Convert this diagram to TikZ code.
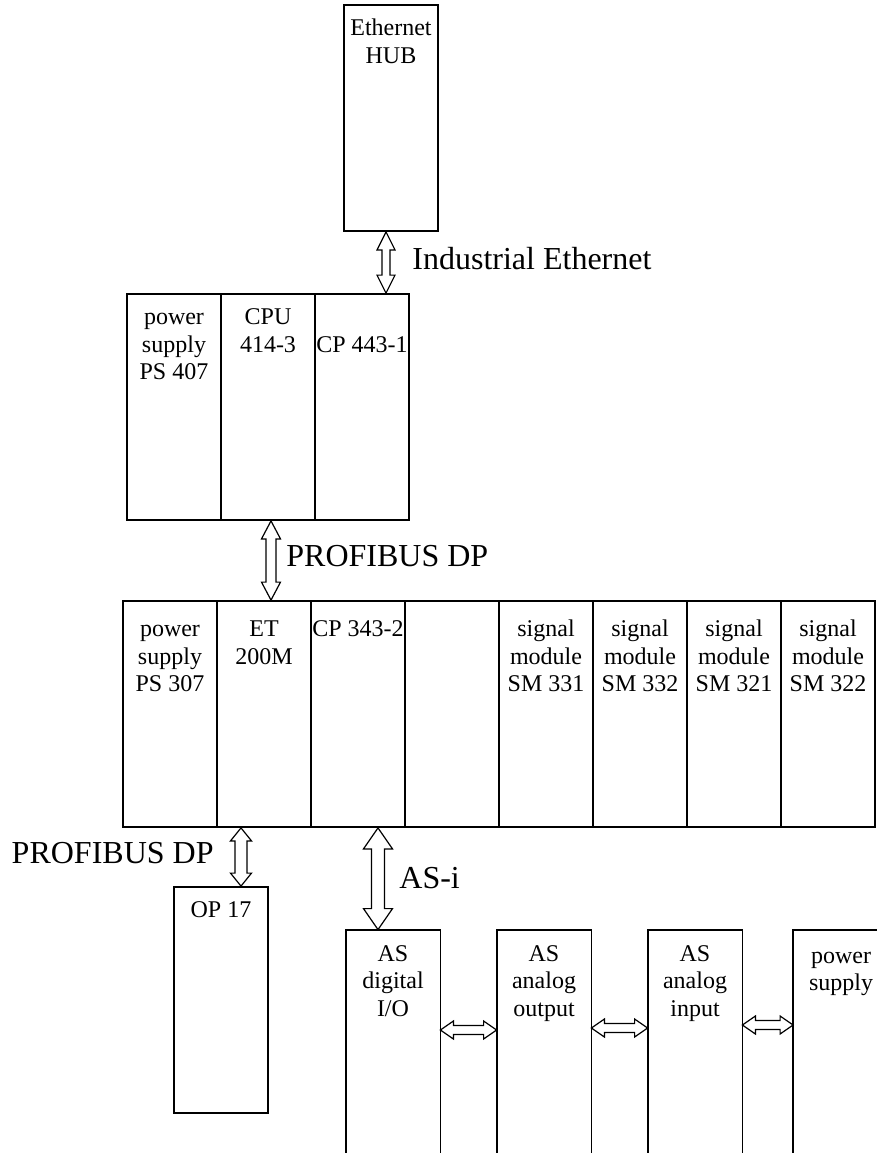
\documentclass[tikz,border=0pt]{standalone}
\usepackage{fontspec}
\setmainfont{Liberation Serif}
\usetikzlibrary{calc}

\begin{document}
\begin{tikzpicture}[x=0.5pt, y=-0.5pt, node distance=47pt,
    module/.style={rectangle, draw, line width=0.9pt, minimum width=47pt, minimum height=113pt, inner sep=0pt},
    slave/.style={rectangle, minimum width=47pt, minimum height=111.5pt, inner sep=0pt},
    frame/.style={line width=0.9pt},
    modtext/.style={anchor=north, yshift=-5.85pt, align=center, inner sep=0pt, font=\fontsize{12}{13.8}\selectfont},
    % block arrows: #1 half head width, #2 half shaft width, #3 head length
    vbus/.style n args={3}{draw, fill=white, line width=0.6pt, to path={(\tikztostart) -- ++(-#1,-#3) -- ++(#1-#2,0pt)
        -- ($(\tikztotarget)+(-#2,#3)$) -- ++(#2-#1,0pt) -- (\tikztotarget) -- ++(#1,#3) -- ++(#2-#1,0pt)
        -- ($(\tikztostart)+(#2,-#3)$) -- ++(#1-#2,0pt) -- cycle}},
    hbus/.style n args={3}{draw, fill=white, line width=0.6pt, to path={(\tikztostart) -- ++(#3,#1) -- ++(0pt,#2-#1)
        -- ($(\tikztotarget)+(-#3,#2)$) -- ++(0pt,#1-#2) -- (\tikztotarget) -- ++(-#3,-#1) -- ++(0pt,#1-#2)
        -- ($(\tikztostart)+(#3,-#2)$) -- ++(0pt,#2-#1) -- cycle}},
    buslabel/.style={inner sep=0pt, font=\fontsize{16}{19}\selectfont}]
    \useasboundingbox (0,0) rectangle (878,1153);

    % Ethernet hub
    \node[module] (hub) at (391,118) {};
    \node[modtext] (hubt) at (hub.north) {\strut Ethernet\\HUB};

    % S7-400 rack
    \node[module] (ps407) at (174,407) {};
    \node[module, right of=ps407] (cpu) {};
    \node[module, right of=cpu] (cp443) {};
    \node[modtext] (ps407t) at (ps407.north) {\strut power\\supply\\PS 407};
    \node[modtext] (cput) at (cpu.north) {\strut CPU\\414-3};
    \node[modtext] (cp443t) at (cp443.north) {\strut\\CP 443-1};

    % ET 200M rack
    \node[module] (ps307) at (170,714) {};
    \node[module, right of=ps307] (et200) {};
    \node[module, right of=et200] (cp343) {};
    \node[module, right of=cp343] (slot) {};
    \node[module, right of=slot] (sm331) {};
    \node[module, right of=sm331] (sm332) {};
    \node[module, right of=sm332] (sm321) {};
    \node[module, right of=sm321] (sm322) {};
    \node[modtext, yshift=-2.5pt] (ps307t) at (ps307.north) {\strut power\\supply\\PS 307};
    \node[modtext, yshift=-2.5pt] (et200t) at (et200.north) {\strut ET\\200M};
    \node[modtext, yshift=-2.5pt] (cp343t) at (cp343.north) {\strut CP 343-2};
    \node[modtext, yshift=-2.5pt] (sm331t) at (sm331.north) {\strut signal\\module\\SM 331};
    \node[modtext, yshift=-2.5pt] (sm332t) at (sm332.north) {\strut signal\\module\\SM 332};
    \node[modtext, yshift=-2.5pt] (sm321t) at (sm321.north) {\strut signal\\module\\SM 321};
    \node[modtext, yshift=-2.5pt] (sm322t) at (sm322.north) {\strut signal\\module\\SM 322};

    % operator panel
    \node[module] (op17) at (221,1000) {};
    \node[modtext] (op17t) at (op17.north) {\strut OP 17};

    % AS-i slaves, open at the bottom
    \node[slave] (asdio) at (393,1041.5) {};
    \node[slave, right of=asdio, node distance=75.5pt] (asao) {};
    \node[slave, right of=asao, node distance=75.5pt] (asai) {};
    \node[slave, right of=asai, node distance=70pt, minimum width=41.5pt] (aps) {};
    \draw[frame] (asdio.south west) |- (asdio.north east) -- (asdio.south east);
    \draw[frame] (asao.south west) |- (asao.north east) -- (asao.south east);
    \draw[frame] (asai.south west) |- (asai.north east) -- (asai.south east);
    \draw[frame] (aps.south west) |- (aps.north east);
    \node[modtext] (asdiot) at (asdio.north) {\strut AS\\digital\\I/O};
    \node[modtext] (asaot) at (asao.north) {\strut AS\\analog\\output};
    \node[modtext] (asait) at (asai.north) {\strut AS\\analog\\input};
    \node[modtext, xshift=3pt, yshift=-1pt] (apst) at (aps.north) {\strut power\\supply};

    % buses
    \draw[vbus={4.5pt}{2pt}{9pt}] ([xshift=-2.5pt]hub.south) to ([xshift=-2.5pt]hub.south |- cp443.north);
    \draw[vbus={4.75pt}{2.5pt}{9pt}] ([xshift=1.5pt]cpu.south) to ([xshift=1.5pt]cpu.south |- et200.north);
    \draw[vbus={5.25pt}{3pt}{6.5pt}] ([xshift=-11.5pt]et200.south) to ([xshift=-11.5pt]et200.south |- op17.north);
    \draw[vbus={7.25pt}{3.25pt}{10.5pt}] ([xshift=10pt]cp343.south) to ([xshift=10pt]cp343.south |- asdio.north);
    \draw[hbus={4.5pt}{2.25pt}{6.5pt}] ([yshift=5.75pt]asdio.east) to ([yshift=5.75pt]asao.west);
    \draw[hbus={4.5pt}{2.25pt}{6.5pt}] ([yshift=6.75pt]asao.east) to ([yshift=6.75pt]asai.west);
    \draw[hbus={4.5pt}{2.25pt}{6.5pt}] ([yshift=8.25pt]asai.east) to ([yshift=8.25pt]aps.west);
    \node[buslabel, anchor=west] (ie) at (412,259) {Industrial Ethernet};
    \node[buslabel, anchor=west] (dp1) at (286,556.5) {PROFIBUS DP};
    \node[buslabel, anchor=east] (dp2) at (214,853.5) {PROFIBUS DP};
    \node[buslabel, anchor=west] (asi) at (399,878) {AS-i};
\end{tikzpicture}
\end{document}
